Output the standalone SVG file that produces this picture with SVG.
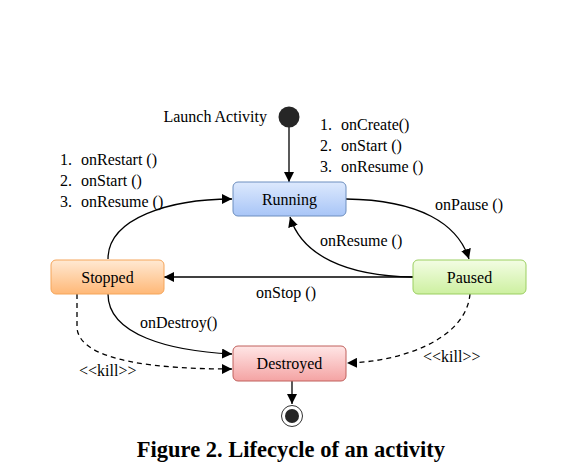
<svg xmlns="http://www.w3.org/2000/svg" width="578" height="475" viewBox="0 0 578 475">
<style>
text{font-family:"Liberation Serif","Times New Roman",serif;font-size:16px;fill:#000}
.lbl{text-anchor:middle}
.c{fill:none;stroke:#000;stroke-width:1.3}
.d{stroke-dasharray:5,4}
.node{stroke-width:1}
</style>
<defs>
<linearGradient id="gB" x1="0" y1="0" x2="0" y2="1"><stop offset="0" stop-color="#dde9fd"/><stop offset="1" stop-color="#a8c5f7"/></linearGradient>
<linearGradient id="gG" x1="0" y1="0" x2="0" y2="1"><stop offset="0" stop-color="#f3fde4"/><stop offset="1" stop-color="#cdf0a0"/></linearGradient>
<linearGradient id="gO" x1="0" y1="0" x2="0" y2="1"><stop offset="0" stop-color="#ffe9d3"/><stop offset="1" stop-color="#ffb877"/></linearGradient>
<linearGradient id="gR" x1="0" y1="0" x2="0" y2="1"><stop offset="0" stop-color="#ffe6e6"/><stop offset="1" stop-color="#f4a3a3"/></linearGradient>
<marker id="arr" viewBox="0 0 10 10" refX="10" refY="5" markerWidth="10" markerHeight="10" markerUnits="userSpaceOnUse" orient="auto"><path d="M0,0 L10,5 L0,10 Z" fill="#000"/></marker>
</defs>
<g id="connectors">
<path class="c" d="M289,127 L289,182" marker-end="url(#arr)"/>
<path class="c" d="M346,199 C420,200 458,224 469,259" marker-end="url(#arr)"/>
<path class="c" d="M413,277 C345,276 302,255 290,217" marker-end="url(#arr)"/>
<path class="c" d="M413,277 L164,277" marker-end="url(#arr)"/>
<path class="c" d="M108,259 C108,218 170,199 232,199" marker-end="url(#arr)"/>
<path class="c" d="M108,294 C108,335 170,351 232,354" marker-end="url(#arr)"/>
<path class="c d" d="M77,294 L77,328 C80,362 160,369 232,369" marker-end="url(#arr)"/>
<path class="c d" d="M470,294 C466,340 400,362 347,363" marker-end="url(#arr)"/>
<path class="c" d="M292,381 L292,404" marker-end="url(#arr)"/>
<text x="320" y="246">onResume ()</text>
<text x="435" y="210">onPause ()</text>
<text x="256" y="298">onStop ()</text>
<text x="140" y="328">onDestroy()</text>
<text x="79" y="376">&lt;&lt;kill&gt;&gt;</text>
<text x="423" y="362">&lt;&lt;kill&gt;&gt;</text>
</g>
<g id="start">
<circle cx="289" cy="117" r="10.5" fill="#262626"/>
<text x="267" y="122" text-anchor="end">Launch Activity</text>
</g>
<g id="create-list">
<text x="320" y="130">1.</text><text x="341" y="130">onCreate()</text>
<text x="320" y="151">2.</text><text x="341" y="151">onStart ()</text>
<text x="320" y="172">3.</text><text x="341" y="172">onResume ()</text>
</g>
<g id="restart-list">
<text x="60" y="165">1.</text><text x="81" y="165">onRestart ()</text>
<text x="60" y="186">2.</text><text x="81" y="186">onStart ()</text>
<text x="60" y="207">3.</text><text x="81" y="207">onResume ()</text>
</g>
<g id="running">
<rect class="node" x="233" y="182" width="113" height="34" rx="5" fill="url(#gB)" stroke="#6c8ebf"/>
<text class="lbl" x="289.5" y="205">Running</text>
</g>
<g id="paused">
<rect class="node" x="413" y="260" width="113" height="34" rx="5" fill="url(#gG)" stroke="#9bcf60"/>
<text class="lbl" x="469.5" y="283">Paused</text>
</g>
<g id="stopped">
<rect class="node" x="51" y="260" width="113" height="34" rx="5" fill="url(#gO)" stroke="#f5a55a"/>
<text class="lbl" x="107.5" y="283">Stopped</text>
</g>
<g id="destroyed">
<rect class="node" x="233" y="346" width="113" height="35" rx="5" fill="url(#gR)" stroke="#c0605c"/>
<text class="lbl" x="289.5" y="369">Destroyed</text>
</g>
<g id="end">
<circle cx="292" cy="416" r="10.5" fill="#fff" stroke="#333" stroke-width="1"/>
<circle cx="292" cy="416" r="7" fill="#262626"/>
</g>
<text x="291" y="457" text-anchor="middle" style="font-weight:bold;font-size:22.5px">Figure 2. Lifecycle of an activity</text>
</svg>
